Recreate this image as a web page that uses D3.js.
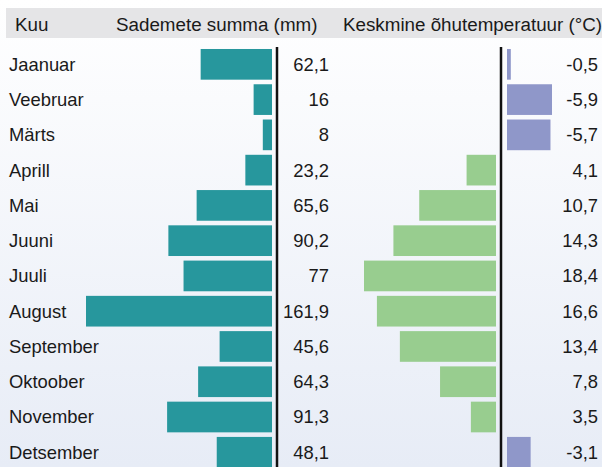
<!DOCTYPE html>
<html>
<head>
<meta charset="utf-8">
<script src="https://cdn.jsdelivr.net/npm/d3@7"></script>
<style>
    body { margin: 0; }
    svg text { font-family: "Liberation Sans", Arial, sans-serif; font-size: 18.4px; fill: #1a1a1a; }
    svg text.header { font-size: 18.8px; }
</style>
</head>
<body>
<div id="chart"></div>
<script>
// values
let months = ["Jaanuar", "Veebruar", "Märts", "Aprill", "Mai", "Juuni", "Juuli",
              "August", "September", "Oktoober", "November", "Detsember"];
let precipitation = [62.1, 16, 8, 23.2, 65.6, 90.2, 77, 161.9, 45.6, 64.3, 91.3, 48.1];
let temperature = [-0.5, -5.9, -5.7, 4.1, 10.7, 14.3, 18.4, 16.6, 13.4, 7.8, 3.5, -3.1];
let headers = ["Kuu", "Sademete summa (mm)", "Keskmine õhutemperatuur (°C)"];

let width = 602, height = 467;

let svg = d3.select("#chart").append("svg")
    .attr("width", width)
    .attr("height", height);

//background gradient
let grad = svg.append("defs").append("linearGradient")
    .attr("id", "bg").attr("x1", 0).attr("y1", 0).attr("x2", 0).attr("y2", 1);
grad.append("stop").attr("offset", "0%").attr("stop-color", "#ffffff");
grad.append("stop").attr("offset", "100%").attr("stop-color", "#e7ecf6");
svg.append("rect").attr("width", width).attr("height", height).attr("fill", "url(#bg)");

let data = months.map((m, i) => ({month: m, precip: precipitation[i], temp: temperature[i]}));

let yScale = d3.scaleBand()
    .domain(months)
    .range([46.7, 469.9])
    .paddingInner(0.13)
    .paddingOuter(0.065);

//precipitation bars grow to the left of the axis line
let precipAxis = 277;
let precipScale = d3.scaleLinear().domain([0, 161.9]).range([272, 86]);

//temperature: positive to the left, negative to the right
let tempAxis = 501;
let tempPos = d3.scaleLinear().domain([0, 18.4]).range([496, 364]);
let tempNeg = d3.scaleLinear().domain([0, -5.9]).range([507, 552]);

let fmt = d3.formatLocale({decimal: ",", thousands: " ", grouping: [3], currency: ["", ""], minus: "-"})
    .format(".1~f");

//header band
svg.append("rect")
    .attr("x", 6).attr("y", 8)
    .attr("width", width - 6).attr("height", 30)
    .attr("fill", "#e5e5e7");
let headerX = [15, 116, 343];
svg.selectAll(".header").data(headers).enter().append("text")
    .attr("class", "header")
    .attr("x", (d, i) => headerX[i])
    .attr("y", 31)
    .text(d => d);

let rows = svg.selectAll(".row").data(data).enter().append("g").attr("class", "row");

rows.append("text")
    .attr("x", 9)
    .attr("y", d => yScale(d.month) + yScale.bandwidth() / 2)
    .attr("dy", "0.35em")
    .text(d => d.month);

rows.append("rect")
    .attr("x", d => precipScale(d.precip))
    .attr("y", d => yScale(d.month))
    .attr("width", d => precipScale(0) - precipScale(d.precip))
    .attr("height", yScale.bandwidth())
    .attr("fill", "#27979d");

rows.append("text")
    .attr("x", 329)
    .attr("y", d => yScale(d.month) + yScale.bandwidth() / 2)
    .attr("dy", "0.35em")
    .attr("text-anchor", "end")
    .text(d => fmt(d.precip));

rows.append("rect")
    .attr("x", d => d.temp >= 0 ? tempPos(d.temp) : tempNeg(0))
    .attr("y", d => yScale(d.month))
    .attr("width", d => d.temp >= 0 ? tempPos(0) - tempPos(d.temp) : tempNeg(d.temp) - tempNeg(0))
    .attr("height", yScale.bandwidth())
    .attr("fill", d => d.temp >= 0 ? "#98cd8f" : "#8f97c9");

rows.append("text")
    .attr("x", 598)
    .attr("y", d => yScale(d.month) + yScale.bandwidth() / 2)
    .attr("dy", "0.35em")
    .attr("text-anchor", "end")
    .text(d => fmt(d.temp));

//axis lines
svg.selectAll(".axisLine").data([precipAxis, tempAxis]).enter().append("line")
    .attr("class", "axisLine")
    .attr("x1", d => d).attr("x2", d => d)
    .attr("y1", 47).attr("y2", height)
    .attr("stroke", "#111")
    .attr("stroke-width", 2.5);
</script>
</body>
</html>
